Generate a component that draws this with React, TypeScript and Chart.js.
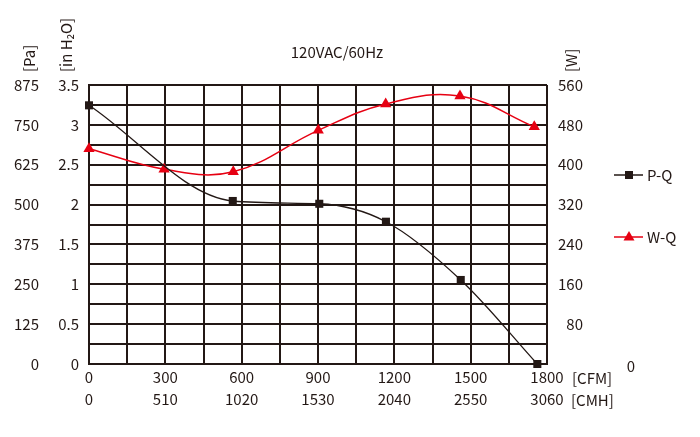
import { useEffect, useRef } from 'react';
import { Chart, registerables } from 'chart.js';

Chart.register(...registerables);

// P-Q curve: airflow [CFM] vs static pressure [in H2O]
const pqFlow = [0, 565, 905, 1167, 1461, 1762];
const pqPressure = [3.245, 2.045, 2.01, 1.785, 1.054, 0];

// W-Q curve: airflow [CFM] vs input power [W]
const wqFlow = [0, 295, 567, 901, 1166, 1458, 1750];
const wqPower = [432, 391, 386, 469, 522, 538, 476];

// x tick labels, two rows
const cfmTicks = [0, 300, 600, 900, 1200, 1500, 1800];
const cmhTicks = [0, 510, 1020, 1530, 2040, 2550, 3060];

const INK = '#231815';
const RED = '#e60012';
const FONT = '"Noto Sans CJK SC", "Noto Sans", sans-serif';

const textPlugin = {
  id: 'extraText',
  afterDraw(chart: Chart) {
    const ctx = chart.ctx;
    ctx.save();
    ctx.fillStyle = INK;
    ctx.font = `15px ${FONT}`;
    ctx.textBaseline = 'middle';

    ctx.textAlign = 'center';
    ctx.fillText('120VAC/60Hz', 337, 52);

    const vertical = (txt: string, x: number, y: number) => {
      ctx.save();
      ctx.translate(x, y);
      ctx.rotate(-Math.PI / 2);
      ctx.textAlign = 'left';
      ctx.fillText(txt, 0, 0);
      ctx.restore();
    };
    vertical('[Pa]', 29, 72);
    vertical('[in H₂O]', 66, 72);
    vertical('[W]', 571, 72);

    ctx.textAlign = 'left';
    ctx.fillText('[CFM]', 572, 378);
    ctx.fillText('[CMH]', 571, 400);
    ctx.textAlign = 'center';
    ctx.fillText('0', 631, 366);

    // legend
    const legend = [
      { label: 'P-Q', y: 175, color: INK, shape: 'rect' },
      { label: 'W-Q', y: 237, color: RED, shape: 'tri' },
    ];
    legend.forEach((l) => {
      ctx.strokeStyle = l.color;
      ctx.fillStyle = l.color;
      ctx.lineWidth = 1.5;
      ctx.beginPath();
      ctx.moveTo(614, l.y);
      ctx.lineTo(643, l.y);
      ctx.stroke();
      ctx.beginPath();
      if (l.shape === 'rect') {
        ctx.rect(625, l.y - 4, 8, 8);
      } else {
        ctx.moveTo(629, l.y - 6);
        ctx.lineTo(634.5, l.y + 3.5);
        ctx.lineTo(623.5, l.y + 3.5);
        ctx.closePath();
      }
      ctx.fill();
      ctx.fillStyle = INK;
      ctx.textAlign = 'left';
      ctx.fillText(l.label, 647, l.y);
    });
    ctx.restore();
  },
};

export default function App() {
  const canvasRef = useRef<HTMLCanvasElement>(null);

  useEffect(() => {
    if (!canvasRef.current) return;

    const tickFont = { family: FONT, size: 15 };

    const chart = new Chart(canvasRef.current, {
      type: 'line',
      data: {
        datasets: [
          {
            label: 'P-Q',
            data: pqFlow.map((x, i) => ({ x, y: pqPressure[i] })),
            yAxisID: 'yIn',
            borderColor: INK,
            backgroundColor: INK,
            borderWidth: 1.3,
            pointStyle: 'rect',
            pointRadius: 5.7,
            pointBackgroundColor: INK,
            pointBorderWidth: 0,
            cubicInterpolationMode: 'monotone',
            clip: false,
          },
          {
            label: 'W-Q',
            data: wqFlow.map((x, i) => ({ x, y: wqPower[i] })),
            yAxisID: 'yW',
            borderColor: RED,
            backgroundColor: RED,
            borderWidth: 1.5,
            pointStyle: 'triangle',
            pointRadius: 6.5,
            pointBackgroundColor: RED,
            pointBorderWidth: 0,
            tension: 0.4,
            clip: false,
          },
        ],
      },
      options: {
        animation: false,
        responsive: true,
        maintainAspectRatio: false,
        layout: { padding: { top: 85, right: 117, left: 0, bottom: 0 } },
        plugins: {
          legend: { display: false },
          tooltip: { enabled: false },
        },
        scales: {
          x: {
            type: 'linear',
            min: 0,
            max: 1800,
            afterFit: (s: any) => { s.height = 73; },
            grid: { color: INK, lineWidth: 2, drawTicks: false },
            border: { color: INK, width: 2 },
            ticks: {
              stepSize: 150,
              autoSkip: false,
              maxRotation: 0,
              padding: 2,
              color: INK,
              font: { ...tickFont, lineHeight: 22 / 15 },
              callback: (v: any) => {
                const i = cfmTicks.indexOf(Number(v));
                return i < 0 ? '' : [String(cfmTicks[i]), String(cmhTicks[i])];
              },
            },
          },
          yIn: {
            type: 'linear',
            position: 'left',
            weight: 0,
            min: 0,
            max: 3.5,
            afterFit: (s: any) => { s.width = 47; },
            grid: { color: INK, lineWidth: 2, drawTicks: false },
            border: { color: INK, width: 2 },
            ticks: {
              stepSize: 0.25,
              autoSkip: false,
              padding: 10,
              color: INK,
              font: tickFont,
              callback: (v: any) => (Math.abs(v * 2 - Math.round(v * 2)) < 1e-6 ? String(v) : ''),
            },
          },
          yPa: {
            type: 'linear',
            position: 'left',
            weight: 1,
            min: 0,
            max: 875,
            afterFit: (s: any) => { s.width = 42; },
            grid: { display: false, drawTicks: false },
            border: { display: false },
            ticks: {
              stepSize: 62.5,
              autoSkip: false,
              padding: 3,
              color: INK,
              font: tickFont,
              callback: (v: any) => (Number(v) % 125 === 0 ? String(v) : ''),
            },
          },
          yW: {
            type: 'linear',
            position: 'right',
            min: 0,
            max: 560,
            afterFit: (s: any) => { s.width = 36; },
            grid: { display: false, drawTicks: false },
            border: { display: false },
            ticks: {
              stepSize: 40,
              autoSkip: false,
              crossAlign: 'far',
              color: INK,
              font: tickFont,
              callback: (v: any) => (Number(v) % 80 === 0 && Number(v) !== 0 ? String(v) : ''),
            },
          },
        },
      },
      plugins: [textPlugin],
    });

    return () => chart.destroy();
  }, []);

  return (
    <div style={{ position: 'fixed', left: 0, top: 0, width: 700, height: 437, background: '#fff' }}>
      <canvas ref={canvasRef}></canvas>
    </div>
  );
}
